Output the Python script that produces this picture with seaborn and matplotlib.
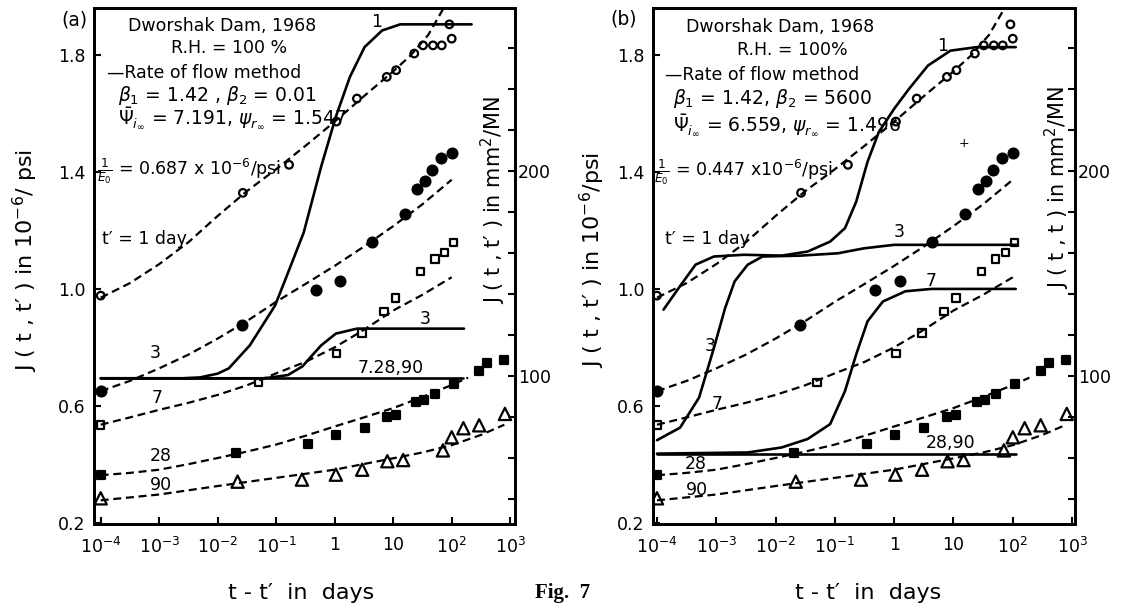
import numpy as np
import pandas as pd
import matplotlib
matplotlib.use("Agg")
import matplotlib.pyplot as plt
import seaborn as sns

sns.set_style("ticks")
plt.rcParams['font.family'] = ['DejaVu Sans']
plt.rcParams['mathtext.fontset'] = 'dejavusans'
for k in ['text.color', 'axes.labelcolor', 'xtick.color', 'ytick.color', 'axes.edgecolor']:
    plt.rcParams[k] = 'black'

# ---------------- data (log10 of t - t' in days, J in 1e-6/psi) ----------------
# measured points (same in both panels)
lt_open_circ = [-4.0, -1.57, -0.78, 0.03, 0.38, 0.89, 1.05, 1.36, 1.51, 1.68, 1.83, 1.96, 2.0]
J_open_circ = [0.977, 1.329, 1.425, 1.573, 1.652, 1.726, 1.749, 1.806, 1.834, 1.834, 1.834, 1.906, 1.857]

lt_fill_circ = [-4.0, -1.58, -0.32, 0.09, 0.63, 1.20, 1.41, 1.54, 1.67, 1.82, 2.0]
J_fill_circ = [0.650, 0.877, 0.998, 1.028, 1.159, 1.255, 1.343, 1.369, 1.406, 1.448, 1.465]

lt_open_sq = [-4.0, -1.30, 0.03, 0.47, 0.84, 1.04, 1.47, 1.71, 1.88, 2.03]
J_open_sq = [0.535, 0.680, 0.779, 0.850, 0.923, 0.968, 1.059, 1.102, 1.125, 1.159]

lt_fill_sq = [-4.0, -1.69, -0.46, 0.02, 0.51, 0.89, 1.04, 1.39, 1.53, 1.71, 2.04, 2.47, 2.61, 2.89]
J_fill_sq = [0.362, 0.438, 0.469, 0.500, 0.523, 0.560, 0.569, 0.614, 0.618, 0.639, 0.675, 0.718, 0.747, 0.756]

lt_tri = [-4.0, -1.66, -0.56, 0.02, 0.47, 0.90, 1.17, 1.85, 2.0, 2.2, 2.47, 2.91]
J_tri = [0.283, 0.340, 0.347, 0.364, 0.381, 0.410, 0.414, 0.447, 0.492, 0.523, 0.533, 0.572]

# dashed (fitted) curves, same in both panels
lt_d1 = [-4.0, -3.5, -3.0, -2.5, -2.0, -1.5, -1.0, -0.5, 0.0, 0.5, 1.0, 1.3, 1.6, 1.9]
J_d1 = [0.970, 1.020, 1.085, 1.160, 1.250, 1.335, 1.410, 1.490, 1.573, 1.660, 1.745, 1.800, 1.870, 1.975]
lt_d3 = [-4.0, -3.5, -3.0, -2.5, -2.0, -1.5, -1.0, -0.5, 0.0, 0.5, 1.0, 1.5, 2.0]
J_d3 = [0.650, 0.685, 0.728, 0.775, 0.830, 0.890, 0.956, 1.017, 1.079, 1.145, 1.215, 1.290, 1.374]
lt_d7 = [-4.0, -3.5, -3.0, -2.5, -2.0, -1.5, -1.0, -0.5, 0.0, 0.5, 1.0, 1.5, 2.0]
J_d7 = [0.535, 0.560, 0.586, 0.610, 0.637, 0.670, 0.711, 0.750, 0.800, 0.860, 0.926, 0.980, 1.040]
lt_d28 = [-4.0, -3.5, -3.0, -2.5, -2.0, -1.5, -1.0, -0.5, 0.0, 0.5, 1.0, 1.5, 2.0, 2.28]
J_d28 = [0.362, 0.370, 0.381, 0.400, 0.421, 0.443, 0.467, 0.497, 0.529, 0.560, 0.592, 0.630, 0.671, 0.696]
lt_d90 = [-4.0, -3.0, -2.0, -1.0, 0.0, 1.0, 1.5, 2.0, 2.5, 2.9]
J_d90 = [0.276, 0.296, 0.325, 0.353, 0.381, 0.420, 0.440, 0.465, 0.500, 0.535]

# solid curves (rate of flow method), panel (a)
lt_a1 = [-4.0, -2.6, -2.30, -2.0, -1.81, -1.45, -1.02, -0.84, -0.53, -0.23, 0.02, 0.26, 0.51, 0.81, 1.12, 2.34]
J_a1 = [0.694, 0.694, 0.697, 0.71, 0.728, 0.807, 0.943, 1.034, 1.193, 1.420, 1.590, 1.726, 1.828, 1.885, 1.906, 1.906]
lt_a3 = [-4.0, -1.2, -0.8, -0.55, -0.41, -0.23, 0.02, 0.38, 2.21]
J_a3 = [0.694, 0.694, 0.705, 0.735, 0.767, 0.807, 0.847, 0.864, 0.864]
lt_a7 = [-4.0, 2.2]
J_a7 = [0.694, 0.694]

# solid curves, panel (b)
lt_b1 = [-3.89, -3.61, -3.35, -3.04, -2.53, -1.90, -1.46, -1.08, -0.83, -0.64, -0.45, -0.26, 0.0, 0.25, 0.57, 0.95, 1.39, 2.05]
J_b1 = [0.929, 1.010, 1.083, 1.111, 1.117, 1.114, 1.128, 1.162, 1.208, 1.299, 1.435, 1.537, 1.617, 1.685, 1.765, 1.816, 1.828, 1.828]
lt_b3 = [-4.0, -3.61, -3.29, -3.04, -2.85, -2.69, -2.47, -2.22, -1.58, -0.95, -0.51, 0.0, 2.08]
J_b3 = [0.482, 0.525, 0.628, 0.798, 0.935, 1.026, 1.083, 1.111, 1.114, 1.122, 1.139, 1.151, 1.151]
lt_b7 = [-4.0, -2.47, -1.90, -1.46, -1.08, -0.83, -0.64, -0.45, -0.19, 0.19, 0.63, 2.05]
J_b7 = [0.436, 0.440, 0.457, 0.486, 0.537, 0.650, 0.776, 0.889, 0.957, 0.992, 1.000, 1.000]
lt_b28 = [-4.0, 2.05]
J_b28 = [0.436, 0.436]

x_tick_exp = [-4, -3, -2, -1, 0, 1, 2, 3]
x_tick_labels = ['$10^{-4}$', '$10^{-3}$', '$10^{-2}$', '$10^{-1}$', '1', '10', '$10^{2}$', '$10^{3}$']
y_ticks = [0.2, 0.6, 1.0, 1.4, 1.8]
y_tick_labels = ['0.2', '0.6', '1.0', '1.4', '1.8']
right_ticks = list(range(40, 261, 20))
right_labels = {100: '100', 200: '200'}
K_MM = 142.5  # 1e-6/psi -> mm^2/MN as drawn on the right scale

FS = 12.5
W, H = 1122, 610

def T(v):
    return np.power(10.0, np.asarray(v, dtype=float))

def draw_panel(ax, xl, solids, texts):
    ax.set_xscale('log')
    pts = [
        (lt_open_circ, J_open_circ, 'o', 'none', 30),
        (lt_fill_circ, J_fill_circ, 'o', 'black', 50),
        (lt_open_sq, J_open_sq, 's', 'none', 30),
        (lt_fill_sq, J_fill_sq, 's', 'black', 38),
        (lt_tri, J_tri, '^', 'none', 78),
    ]
    for lt, J, m, fc, s in pts:
        df = pd.DataFrame({'t': T(lt), 'J': J})
        sns.scatterplot(data=df, x='t', y='J', marker=m, s=s, facecolor=fc,
                        edgecolor='black', linewidth=1.6, ax=ax, zorder=4, legend=False)
    for lt, J in [(lt_d1, J_d1), (lt_d3, J_d3), (lt_d7, J_d7), (lt_d28, J_d28), (lt_d90, J_d90)]:
        df = pd.DataFrame({'t': T(lt), 'J': J})
        sns.lineplot(data=df, x='t', y='J', color='black', lw=1.6,
                     linestyle=(0, (3.6, 2.1)), estimator=None, sort=False, ax=ax, zorder=3)
    for lt, J in solids:
        df = pd.DataFrame({'t': T(lt), 'J': J})
        sns.lineplot(data=df, x='t', y='J', color='black', lw=1.9,
                     estimator=None, sort=False, ax=ax, zorder=3)
    for lt, J, s, ha, kw in texts:
        ax.text(10 ** lt, J, s, ha=ha, va='center', fontsize=kw.get('fs', FS),
                color='black', zorder=5)
    ax.set_xlim(10 ** xl[0], 10 ** xl[1])
    ylo, yhi = 0.195, 1.962
    ax.set_ylim(ylo, yhi)
    ax.set_xticks([10.0 ** e for e in x_tick_exp])
    ax.set_xticklabels(x_tick_labels, fontsize=FS)
    ax.xaxis.set_minor_locator(matplotlib.ticker.NullLocator())
    ax.set_yticks(y_ticks)
    ax.set_yticklabels(y_tick_labels, fontsize=FS)
    ax.tick_params(axis='x', direction='in', length=5, width=1.5, pad=9, colors='black')
    ax.tick_params(axis='y', direction='in', length=5, width=1.5, pad=6, colors='black')
    ax.set_xlabel('')
    ax.set_ylabel('')
    for sp in ax.spines.values():
        sp.set_visible(True)
        sp.set_linewidth(2.0)
        sp.set_color('black')
    ax2 = ax.twinx()
    ax2.set_ylim(ylo * K_MM, yhi * K_MM)
    ax2.set_yticks(right_ticks)
    ax2.set_yticklabels([right_labels.get(v, '') for v in right_ticks], fontsize=FS)
    ax2.tick_params(axis='y', direction='in', length=5, width=1.5, pad=2, colors='black')
    for sp in ax2.spines.values():
        sp.set_linewidth(2.0)
        sp.set_color('black')
    return ax2

fig = plt.figure(figsize=(11.22, 6.10), dpi=100)
axA = fig.add_axes([93.5 / W, 1 - 524 / H, (515 - 93.5) / W, (524 - 8) / H])
axB = fig.add_axes([653 / W, 1 - 524 / H, (1075 - 653) / W, (524 - 8) / H])

texts_a = [
    (-1.92, 1.902, 'Dworshak Dam, 1968', 'center', {}),
    (-1.80, 1.824, 'R.H. = 100 %', 'center', {}),
    (-3.89, 1.739, '—Rate of flow method', 'left', {}),
    (-3.71, 1.664, r'$\beta_1$ = 1.42 , $\beta_2$ = 0.01', 'left', {'fs': 13.5}),
    (-3.71, 1.585, r'$\bar{\Psi}_{i_\infty}$ = 7.191, $\psi_{r_\infty}$ = 1.547', 'left', {'fs': 13.5}),
    (-4.07, 1.405, r'$\frac{1}{E_0}$ = 0.687 x 10$^{-6}$/psi', 'left', {}),
    (-3.98, 1.170, 't′ = 1 day', 'left', {}),
    (0.72, 1.913, '1', 'center', {}),
    (-3.07, 0.779, '3', 'center', {}),
    (1.54, 0.898, '3', 'center', {}),
    (-3.04, 0.626, '7', 'center', {}),
    (0.96, 0.728, '7.28,90', 'center', {}),
    (-2.97, 0.427, '28', 'center', {}),
    (-2.97, 0.328, '90', 'center', {}),
]
texts_b = [
    (-1.92, 1.896, 'Dworshak Dam, 1968', 'center', {}),
    (-1.72, 1.818, 'R.H. = 100%', 'center', {}),
    (-3.86, 1.733, '—Rate of flow method', 'left', {}),
    (-3.73, 1.651, r'$\beta_1$ = 1.42, $\beta_2$ = 5600', 'left', {'fs': 13.5}),
    (-3.73, 1.560, r'$\bar{\Psi}_{i_\infty}$ = 6.559, $\psi_{r_\infty}$ = 1.496', 'left', {'fs': 13.5}),
    (-4.05, 1.400, r'$\frac{1}{E_0}$ = 0.447 x10$^{-6}$/psi', 'left', {}),
    (-3.86, 1.172, 't′ = 1 day', 'left', {}),
    (0.82, 1.833, '1', 'center', {}),
    (0.09, 1.196, '3', 'center', {}),
    (0.63, 1.026, '7', 'center', {}),
    (-3.10, 0.804, '3', 'center', {}),
    (-2.98, 0.605, '7', 'center', {}),
    (0.95, 0.473, '28,90', 'center', {}),
    (-3.35, 0.400, '28', 'center', {}),
    (-3.32, 0.311, '90', 'center', {}),
    (1.17, 1.498, '+', 'center', {'fs': 9}),
]

draw_panel(axA, (-4.123, 3.082), [(lt_a1, J_a1), (lt_a3, J_a3), (lt_a7, J_a7)], texts_a)
draw_panel(axB, (-4.067, 3.049), [(lt_b1, J_b1), (lt_b3, J_b3), (lt_b7, J_b7), (lt_b28, J_b28)], texts_b)

def ftext(px, py, s, **kw):
    fig.text(px / W, 1 - py / H, s, color='black', **kw)

ftext(74, 20, '(a)', fontsize=13.5, ha='center', va='center')
ftext(624, 19, '(b)', fontsize=13.5, ha='center', va='center')
ftext(25, 261, 'J ( t , t′ ) in 10$^{-6}$/ psi', fontsize=16, rotation=90, ha='center', va='center')
ftext(592, 260, 'J ( t , t′ ) in 10$^{-6}$/psi', fontsize=16, rotation=90, ha='center', va='center')
ftext(493, 200, 'J ( t , t′ ) in mm$^2$/MN', fontsize=15, rotation=90, ha='center', va='center')
ftext(1057, 187, 'J ( t , t ) in mm$^2$/MN', fontsize=15, rotation=90, ha='center', va='center')
ftext(301, 593, 't - t′  in  days', fontsize=16, ha='center', va='center')
ftext(868, 593, 't - t′  in  days', fontsize=16, ha='center', va='center')
ftext(563, 593, 'Fig.  7', fontsize=15, ha='center', va='center', family='Liberation Serif', weight='bold')

fig.savefig('out.png', dpi=100)
